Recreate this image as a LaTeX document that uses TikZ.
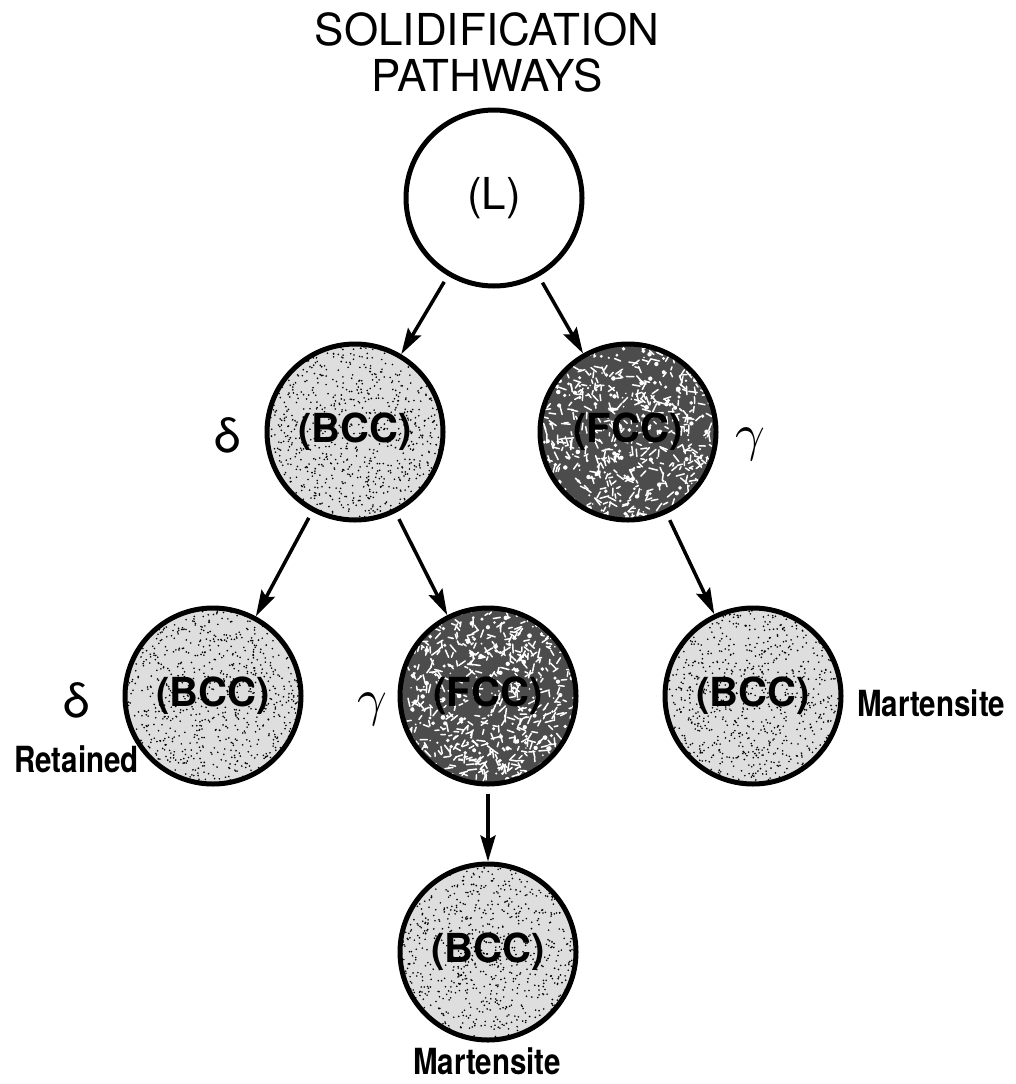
\documentclass[tikz,border=0pt]{standalone}
\usepackage{fontspec}
\setmainfont{TeX Gyre Heros}
\newfontfamily\labfont[FakeStretch=0.82]{TeX Gyre Heros}
\usetikzlibrary{arrows.meta}
\definecolor{bccfill}{gray}{0.87}
\definecolor{fccfill}{gray}{0.30}

\newcommand\bccgrain[3]{%
  \begin{scope}
    \clip (#1,#2) circle (#3pt);
    \fill[bccfill] (#1,#2) circle (#3pt);
    \foreach \k in {1,...,950}{\fill[black] ({#1+#3*rand},{#2+#3*rand}) circle (0.9pt);}
  \end{scope}}
\newcommand\fccgrain[3]{%
  \begin{scope}
    \clip (#1,#2) circle (#3pt);
    \fill[fccfill] (#1,#2) circle (#3pt);
    \foreach \k in {1,...,520}{%
      \pgfmathsetmacro\aa{360*rnd}\pgfmathsetmacro\ll{3+6*rnd}%
      \draw[white, line width=1.5pt, line cap=round] ({#1+#3*rand},{#2+#3*rand}) -- ++(\aa:\ll pt);}
    \foreach \k in {1,...,200}{\pgfmathsetmacro\rr{0.8+1.6*rnd}\fill[white] ({#1+#3*rand},{#2+#3*rand}) circle (\rr pt);}
  \end{scope}}

\tikzset{
  phase/.style={circle, draw=black, line width=5pt, minimum size=176pt, inner sep=0pt},
  liq/.style={phase, fill=white, font=\fontsize{44}{48}\selectfont},
  bcc/.style={phase, font=\bfseries\fontsize{40}{44}\selectfont},
  fcc/.style={phase, font=\bfseries\fontsize{40}{44}\selectfont},
  flow/.style={line width=3.5pt, -{Stealth[length=26pt,width=15pt,inset=4pt]}, shorten <=7pt},
  greek/.style={font=\fontsize{48}{52}\selectfont, inner sep=0pt},
  gam/.style={font=\normalsize, inner sep=0pt},
  lab/.style={font=\labfont\bfseries\fontsize{36}{40}\selectfont, inner sep=0pt},
  ttl/.style={font=\fontsize{44}{50}\selectfont, inner sep=0pt},
}

\begin{document}
\begin{tikzpicture}[x=1pt,y=-1pt]
  \useasboundingbox (0,0) rectangle (1015,1084);
  \fill[white] (0,0) rectangle (1015,1084);
  \pgfmathsetseed{4242}

  % title
  \node[ttl, anchor=base] (title1) at (487,45) {SOLIDIFICATION};
  \node[ttl, anchor=base] (title2) at (487,91) {PATHWAYS};

  % textures
  \bccgrain{355}{432}{88}
  \fccgrain{628}{432}{88}
  \bccgrain{213}{696}{88}
  \fccgrain{488}{696}{88}
  \bccgrain{753}{696}{88}
  \bccgrain{488}{952}{88}

  % phase circles
  \node[liq] (L) at (494,198) {(L)};
  \node[bcc] (BCC1) at (355,432) {(BCC)};
  \node[fcc] (FCC1) at (628,432) {(FCC)};
  \node[bcc] (BCC2) at (213,696) {(BCC)};
  \node[fcc] (FCC2) at (488,696) {(FCC)};
  \node[bcc] (BCC3) at (753,696) {(BCC)};
  \node[bcc] (BCC4) at (488,952) {(BCC)};

  % greek labels
  \node[greek] (d1) at (228,435) {δ};
  \node[gam] (g1) at (750,444) {\scalebox{5.2}{$\gamma$}};
  \node[greek] (d2) at (77,700) {δ};
  \node[gam] (g2) at (372,709) {\scalebox{5.2}{$\gamma$}};

  % text labels
  \node[lab, anchor=base east] (ret) at (139,772) {Retained};
  \node[lab, anchor=base west] (mart1) at (857,716) {Martensite};
  \node[lab, anchor=base] (mart2) at (487,1074) {Martensite};

  % connectors
  \draw[flow] (L) -- (BCC1);
  \draw[flow] (L) -- (FCC1);
  \draw[flow] (BCC1) -- (BCC2);
  \draw[flow] (BCC1) -- (FCC2);
  \draw[flow] (FCC1) -- (BCC3);
  \draw[flow] (FCC2) -- (BCC4);
\end{tikzpicture}
\end{document}
